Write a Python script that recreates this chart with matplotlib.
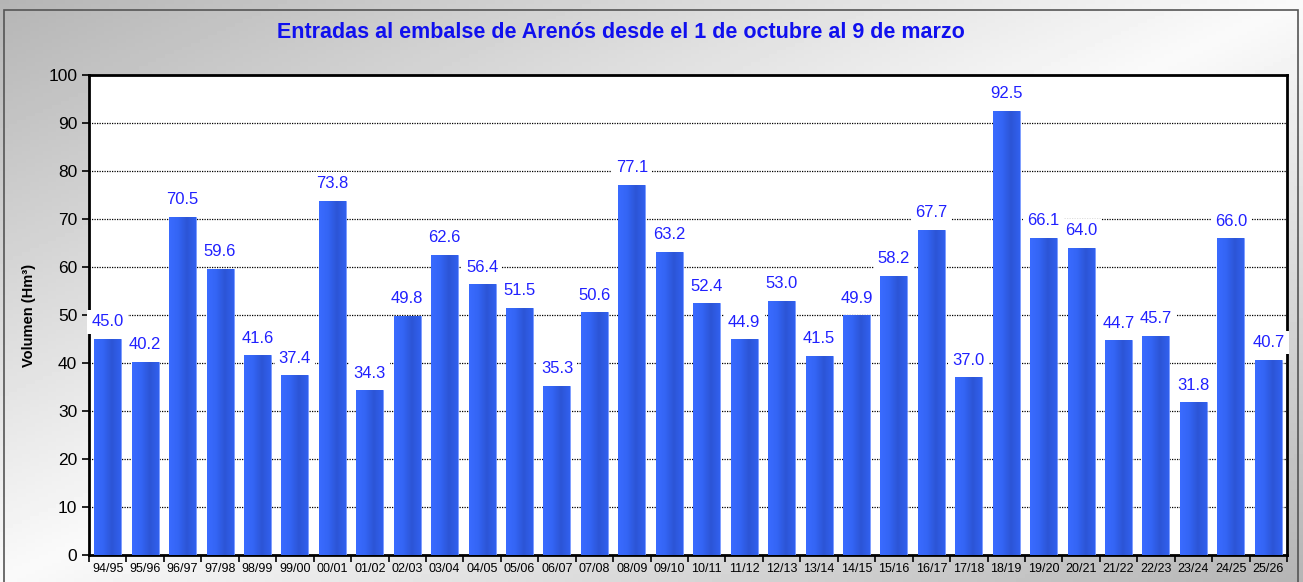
import numpy as np
import matplotlib
matplotlib.use("Agg")
import matplotlib.pyplot as plt
from matplotlib.patches import Rectangle

plt.rcParams["font.family"] = ["Liberation Sans", "DejaVu Sans"]

# Datos
campanas = ["94/95", "95/96", "96/97", "97/98", "98/99", "99/00", "00/01", "01/02",
            "02/03", "03/04", "04/05", "05/06", "06/07", "07/08", "08/09", "09/10",
            "10/11", "11/12", "12/13", "13/14", "14/15", "15/16", "16/17", "17/18",
            "18/19", "19/20", "20/21", "21/22", "22/23", "23/24", "24/25", "25/26"]
volumen = [45.0, 40.2, 70.5, 59.6, 41.6, 37.4, 73.8, 34.3, 49.8, 62.6, 56.4, 51.5,
           35.3, 50.6, 77.1, 63.2, 52.4, 44.9, 53.0, 41.5, 49.9, 58.2, 67.7, 37.0,
           92.5, 66.1, 64.0, 44.7, 45.7, 31.8, 66.0, 40.7]
yticks = [0, 10, 20, 30, 40, 50, 60, 70, 80, 90, 100]

fig = plt.figure(figsize=(13.03, 5.82), dpi=100)
fig.patch.set_facecolor("white")

# Fondo degradado gris (oscuro arriba-izq y abajo-der, claro en la diagonal)
bg = fig.add_axes([0, 0, 1, 1], zorder=0)
xx, yy = np.meshgrid(np.linspace(0, 1, 300), np.linspace(0, 1, 150))
grad = np.clip(0.98 - 0.27 * np.abs(xx - yy), 0, 1)
bg.imshow(grad, cmap="gray", vmin=0, vmax=1, extent=[0, 1, 0, 1],
          origin="lower", aspect="auto")
bg.add_patch(Rectangle((4 / 1303, -0.01), 1294 / 1303, 1 - 10 / 582 + 0.01,
                       fill=False, edgecolor="#555555", lw=1.2,
                       transform=bg.transAxes))
bg.set_xlim(0, 1)
bg.set_ylim(0, 1)
bg.axis("off")

ax = fig.add_axes([89 / 1303, 1 - 555 / 582, 1198 / 1303, 480 / 582], zorder=1)
ax.set_facecolor("white")

x = np.arange(len(campanas))
bars = ax.bar(x, volumen, width=0.72, color="#3366ff", edgecolor="#7b9bff",
              linewidth=0.6, zorder=3)

# degradado horizontal en las barras
bar_grad = np.linspace(0, 1, 64).reshape(1, -1)
cmap = matplotlib.colors.LinearSegmentedColormap.from_list(
    "azul", ["#3a6bff", "#3465f5", "#2c55d6", "#3160ee"])
for b in bars:
    im = ax.imshow(bar_grad, cmap=cmap, aspect="auto", zorder=3.5,
                   extent=[b.get_x(), b.get_x() + b.get_width(), 0, b.get_height()])
    im.set_clip_path(b)

for xi, v in zip(x, volumen):
    ax.text(xi, v + 2.0, f"{v:.1f}", ha="center", va="bottom", fontsize=12,
            color="#2020ff", zorder=5,
            bbox=dict(boxstyle="square,pad=0.25", fc="white", ec="none"))

ax.set_xlim(-0.5, len(campanas) - 0.5)
ax.set_ylim(0, 100)
ax.set_yticks(yticks)
ax.tick_params(axis="y", labelsize=12.5, direction="out", length=5, width=1.2)
ax.set_xticks(x)
ax.set_xticklabels(campanas, fontsize=9)
ax.tick_params(axis="x", length=0, pad=6)
ax.set_xticks(np.arange(len(campanas) + 1) - 0.5, minor=True)
ax.tick_params(axis="x", which="minor", length=5, width=1.2, direction="out")
ax.yaxis.grid(True, linestyle=(0, (1, 1)), color="black", lw=0.9, zorder=1)
ax.set_axisbelow(True)
for s in ax.spines.values():
    s.set_linewidth(2)
    s.set_color("black")

ax.set_ylabel("Volumen (Hm³)", fontsize=10.5, fontweight="bold", labelpad=9)

fig.text(621 / 1303, 1 - 33 / 582, "Entradas al embalse de Arenós desde el 1 de octubre al 9 de marzo",
         ha="center", va="center", fontsize=15.5, fontweight="bold", color="#1010ee")

plt.savefig("out.png", dpi=100)
